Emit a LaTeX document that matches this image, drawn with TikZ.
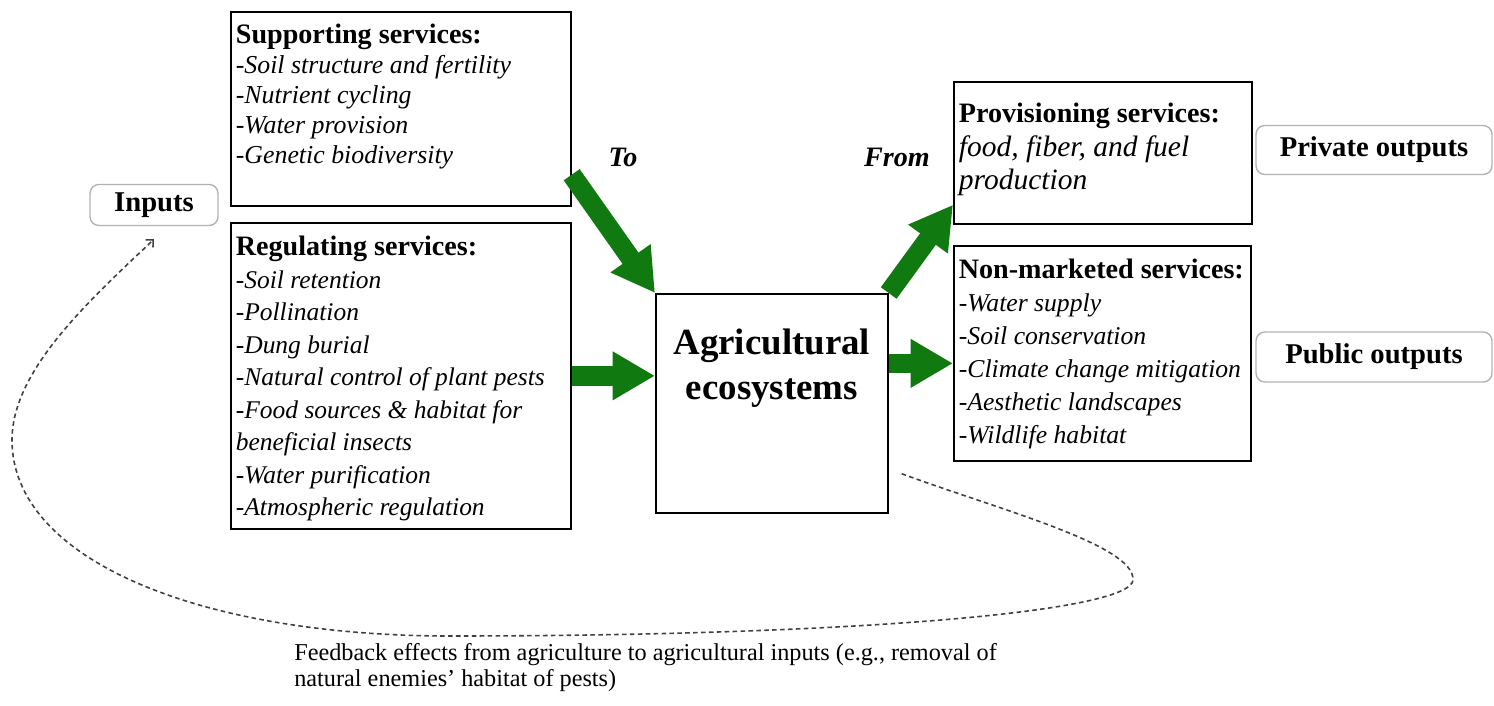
\documentclass[tikz,border=0pt]{standalone}
\usepackage{fontspec}
\setmainfont{Liberation Serif}
\usetikzlibrary{arrows.meta}

\definecolor{arrowgreen}{RGB}{16,122,16}

% width, height, strut, body size, skip, heading, lines
\newcommand{\svctext}[7]{%
  \parbox[t][#2][t]{#1}{\raggedright
    \fontsize{16}{18}\selectfont\bfseries\rule{0pt}{#3}#6\par
    \fontsize{#4}{#5}\selectfont\mdseries\itshape #7}}

\begin{document}
\begin{tikzpicture}[x=0.02cm, y=-0.02cm,
  svc/.style={draw, line width=1pt, anchor=north west, inner sep=0.1cm},
  outbox/.style={draw=gray!60, line width=0.8pt, rounded corners=5pt, inner sep=0pt,
    font=\fontsize{16.3}{18}\selectfont\bfseries},
  greenarrow/.style={draw=arrowgreen, line width=0.39cm,
    -{Triangle[length=0.85cm,width=0.92cm]}},
  feedback/.style={draw=black!75, line width=0.9pt, dash pattern=on 2.6pt off 1.9pt,
    -{Straight Barb[length=3pt,width=6pt]}},
  tofrom/.style={font=\fontsize{16}{18}\selectfont\bfseries\itshape}]
  \useasboundingbox (0,0) rectangle (1494,706);

   % services to agriculture
    \node[svc] (sup) at (230,11) {\svctext{6.6cm}{3.68cm}{0.54cm}{14.7}{17pt}
      {Supporting services:}
      {-Soil structure and fertility\\-Nutrient cycling\\-Water provision\\-Genetic biodiversity}};
    \node[svc] (reg) at (230,222) {\svctext{6.6cm}{5.92cm}{0.56cm}{14.5}{18.5pt}
      {Regulating services:}
      {-Soil retention\\-Pollination\\-Dung burial\\-Natural control of plant pests\\
       -Food sources \& habitat for\\beneficial insects\\-Water purification\\-Atmospheric regulation}};
    \node[outbox, minimum width=2.56cm, minimum height=0.82cm] (inp) at (154,205) {Inputs};

   % agriculture
    \node[svc] (agr) at (655,293) {\parbox[t][4.18cm][t]{4.44cm}{\centering
      \fontsize{21}{25.5}\selectfont\bfseries\rule{0pt}{1.12cm}Agricultural\\ecosystems}};

   % services from agriculture
    \node[svc] (prov) at (953,81) {\svctext{5.76cm}{2.64cm}{0.72cm}{16.8}{18.9pt}
      {Provisioning services:}
      {food, fiber, and fuel\\production}};
    \node[svc] (nm) at (953,245) {\svctext{5.74cm}{4.1cm}{0.56cm}{14.6}{18.7pt}
      {Non-marketed services:}
      {-Water supply\\-Soil conservation\\-Climate change mitigation\\-Aesthetic landscapes\\-Wildlife habitat}};
    \node[outbox, minimum width=4.72cm, minimum height=0.98cm] (priv) at (1374,150) {Private outputs};
    \node[outbox, minimum width=4.72cm, minimum height=1cm] (pub) at (1374,357) {Public outputs};

   % green arrows
    \coordinate (nmin) at ([yshift=-0.2cm]nm.west);
    \draw[greenarrow] ([yshift=0.64cm]sup.south east) -- (agr.north west);
    \draw[greenarrow] (reg.east) -- (reg.east -| agr.west);
    \draw[greenarrow] (agr.east |- nmin) -- (nmin);
    \draw[greenarrow] (agr.north east) -- ([yshift=0.4cm]prov.south west);
    \node[tofrom] (to) at (623,157) {To};
    \node[tofrom] (from) at (897,157) {From};

   % feedback loop
    \draw[feedback] ([xshift=0.26cm,yshift=0.8cm]agr.south east)
      .. controls (1000,510) and (1135,545) .. (1133,580)
      .. controls (1131,612) and (850,636) .. (450,636)
      .. controls (200,636) and (12,560) .. (12,440)
      .. controls (12,370) and (90,300) .. ([yshift=-0.26cm]inp.south);
    \node[anchor=north west, align=left, inner sep=0pt, font=\fontsize{13.8}{15}\selectfont]
      (cap) at (294,643) {Feedback effects from agriculture to agricultural inputs (e.g., removal of\\
      natural enemies’ habitat of pests)};

\end{tikzpicture}
\end{document}
